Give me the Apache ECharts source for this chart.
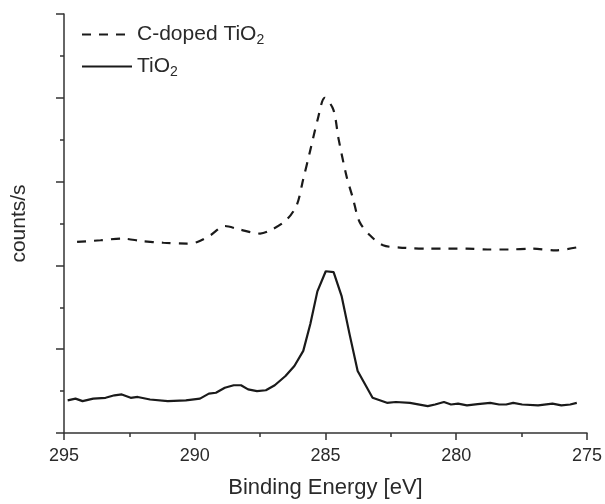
<!DOCTYPE html>
<html>
<head>
<meta charset="utf-8">
<script src="https://cdn.jsdelivr.net/npm/echarts@6/dist/echarts.min.js"></script>
<style>
  html, body { margin: 0; padding: 0; background: #fff; }
  #chart { width: 605px; height: 504px; }
</style>
</head>
<body>
<div id="chart"></div>
<script>
var seriesNames = ['C-doped TiO2', 'TiO2'];

// C-doped TiO2 (dashed)
var dopedEnergy = [294.5, 293.6, 292.8, 292.0, 291.2, 290.3, 289.9, 289.4, 288.85, 288.3, 287.5, 287.1,
  286.5, 286.1, 285.85, 285.6, 285.3, 285.03, 284.7, 284.5, 284.2, 283.95, 283.7, 283.3, 282.8,
  282.0, 281.0, 280.3, 279.6, 278.8, 278.0, 277.1, 276.2, 275.3];
var dopedCounts = [2.28, 2.30, 2.32, 2.29, 2.27, 2.26, 2.28, 2.36, 2.47, 2.43, 2.38, 2.42,
  2.54, 2.72, 3.03, 3.35, 3.74, 4.00, 3.86, 3.51, 3.07, 2.80, 2.52, 2.36, 2.24,
  2.21, 2.20, 2.20, 2.20, 2.19, 2.19, 2.20, 2.18, 2.22];

// TiO2 (solid)
var tioEnergy = [294.86, 294.56, 294.29, 293.88, 293.41, 293.07, 292.79, 292.45, 292.18, 291.71, 291.03,
  290.34, 289.8, 289.46, 289.19, 288.85, 288.51, 288.23, 287.96, 287.62, 287.28, 286.94, 286.53,
  286.19, 285.85, 285.58, 285.31, 284.99, 284.69, 284.38, 284.08, 283.77, 283.2, 282.65, 282.31,
  281.77, 281.09, 280.81, 280.47, 280.2, 279.93, 279.59, 279.18, 278.7, 278.36, 278.09, 277.82,
  277.48, 276.87, 276.32, 275.98, 275.64, 275.39];
var tioCounts = [0.39, 0.41, 0.38, 0.41, 0.42, 0.45, 0.46, 0.42, 0.43, 0.40, 0.38,
  0.39, 0.41, 0.47, 0.48, 0.54, 0.57, 0.57, 0.52, 0.50, 0.51, 0.57, 0.68,
  0.80, 0.98, 1.30, 1.69, 1.93, 1.92, 1.63, 1.18, 0.74, 0.42, 0.36, 0.37,
  0.36, 0.32, 0.34, 0.37, 0.34, 0.35, 0.33, 0.345, 0.36, 0.34, 0.34, 0.36,
  0.34, 0.33, 0.35, 0.33, 0.34, 0.36];

var xTicks = [295, 290, 285, 280, 275];

function zip(xs, ys) {
  var out = [];
  for (var i = 0; i < xs.length; i++) out.push([xs[i], ys[i]]);
  return out;
}

var axisColor = '#333';
var textColor = '#2a2a2a';
var font = 'Liberation Sans, Arial, sans-serif';

var chart = echarts.init(document.getElementById('chart'), null, { renderer: 'canvas' });
chart.setOption({
  animation: false,
  backgroundColor: '#fff',
  grid: { left: 64, right: 17, top: 14, bottom: 68 },
  legend: {
    orient: 'vertical',
    left: 76, top: 19,
    itemWidth: 50, itemHeight: 14, itemGap: 9,
    data: seriesNames,
    itemStyle: { opacity: 0 },
    formatter: function(name) { return name.replace(/2$/, '{s|2}'); },
    textStyle: {
      color: textColor, fontSize: 21, fontFamily: font,
      rich: { s: { fontSize: 14, fontFamily: font, color: textColor, padding: [11, 0, 0, 0] } }
    }
  },
  xAxis: {
    type: 'value', inverse: true,
    min: xTicks[xTicks.length - 1], max: xTicks[0], interval: 5,
    name: 'Binding Energy [eV]', nameLocation: 'middle', nameGap: 44,
    nameTextStyle: { color: textColor, fontSize: 22, fontFamily: font },
    axisLine: { lineStyle: { color: axisColor, width: 1.5 } },
    axisTick: { show: true, inside: false, length: 7, lineStyle: { color: axisColor, width: 1.5 } },
    minorTick: { show: true, splitNumber: 2, length: 4, lineStyle: { color: axisColor, width: 1.5 } },
    axisLabel: { color: textColor, fontSize: 18, fontFamily: font, margin: 14 },
    splitLine: { show: false }
  },
  yAxis: {
    type: 'value', min: 0, max: 5, interval: 1,
    name: 'counts/s', nameLocation: 'middle', nameGap: 34,
    nameTextStyle: { color: textColor, fontSize: 21, fontFamily: font },
    axisLine: { show: true, lineStyle: { color: axisColor, width: 1.5 } },
    axisTick: { show: true, inside: false, length: 8, lineStyle: { color: axisColor, width: 1.5 } },
    minorTick: { show: true, splitNumber: 2, length: 4, lineStyle: { color: axisColor, width: 1.5 } },
    axisLabel: { show: false },
    splitLine: { show: false }
  },
  series: [
    {
      name: seriesNames[0], type: 'line', data: zip(dopedEnergy, dopedCounts),
      symbol: 'none', smooth: 0.3,
      lineStyle: { color: '#1a1a1a', width: 2.2, type: [9, 8] },
      itemStyle: { color: '#1a1a1a' }
    },
    {
      name: seriesNames[1], type: 'line', data: zip(tioEnergy, tioCounts),
      symbol: 'none', smooth: false,
      lineStyle: { color: '#1a1a1a', width: 2.2 },
      itemStyle: { color: '#1a1a1a' }
    }
  ]
});
</script>
</body>
</html>
